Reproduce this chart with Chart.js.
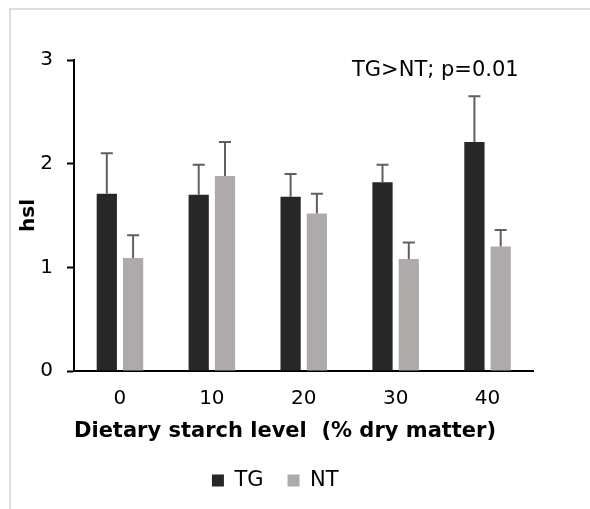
<!DOCTYPE html>
<html>
<head>
<meta charset="utf-8">
<script src="https://cdn.jsdelivr.net/npm/chart.js@4.4.1/dist/chart.umd.min.js"></script>
<style>
  body { margin: 0; background: #fff; }
  .frame { position: absolute; left: 9px; top: 8px; width: 600px; height: 520px; border-left: 2px solid #dedede; border-top: 2px solid #dedede; }
  #chart { position: absolute; left: 0; top: 0; }
</style>
</head>
<body>
<div class="frame"></div>
<canvas id="chart" width="590" height="509"></canvas>
<script>
// data
const starchLevels = ['0', '10', '20', '30', '40'];
const tgValues = [1.71, 1.70, 1.68, 1.82, 2.21];
const tgErrors = [0.39, 0.29, 0.22, 0.17, 0.44];
const ntValues = [1.09, 1.88, 1.52, 1.08, 1.20];
const ntErrors = [0.22, 0.33, 0.19, 0.16, 0.16];
const yTicks = [0, 1, 2, 3];
const noteText = 'TG>NT; p=0.01';

Chart.defaults.font.family = 'DejaVu Sans';
Chart.defaults.font.size = 20;
Chart.defaults.color = '#000';

// only the upper half of each error bar is drawn
const errorBars = {
    id: 'errorBars',
    afterDatasetsDraw(chart) {
        const ctx = chart.ctx;
        const yScale = chart.scales.y;
        chart.data.datasets.forEach(function(ds, i) {
            const meta = chart.getDatasetMeta(i);
            meta.data.forEach(function(bar, j) {
                const top = yScale.getPixelForValue(ds.data[j] + ds.errorBars[j]);
                ctx.save();
                ctx.strokeStyle = '#5f5f5f';
                ctx.lineWidth = 2;
                ctx.beginPath();
                ctx.moveTo(bar.x, bar.y);
                ctx.lineTo(bar.x, top);
                ctx.moveTo(bar.x - 6, top);
                ctx.lineTo(bar.x + 6, top);
                ctx.stroke();
                ctx.restore();
            });
        });
    }
};

// p-value note in the top right of the plot
const noteLabel = {
    id: 'noteLabel',
    afterDraw(chart) {
        const ctx = chart.ctx;
        ctx.save();
        ctx.font = '21px "DejaVu Sans"';
        ctx.fillStyle = '#000';
        ctx.textAlign = 'left';
        ctx.textBaseline = 'middle';
        ctx.fillText(noteText, 352, 71);
        ctx.restore();
    }
};

const data = {
    labels: starchLevels,
    datasets: [{
        label: 'TG',
        data: tgValues,
        errorBars: tgErrors,
        backgroundColor: '#272727',
        categoryPercentage: 0.572,
        barPercentage: 0.77
    }, {
        label: 'NT',
        data: ntValues,
        errorBars: ntErrors,
        backgroundColor: '#aeaaaa',
        categoryPercentage: 0.572,
        barPercentage: 0.77
    }]
};

const config = {
    type: 'bar',
    data: data,
    options: {
        responsive: false,
        animation: false,
        layout: { padding: { left: 17, top: 60, right: 56.5, bottom: 8 } },
        plugins: {
            tooltip: { enabled: false },
            legend: {
                position: 'bottom',
                labels: { boxWidth: 12, boxHeight: 12, padding: 24, font: { size: 21 } }
            }
        },
        scales: {
            x: {
                grid: { display: false, drawTicks: false },
                border: { color: '#000', width: 2 },
                ticks: { padding: 16 },
                title: {
                    display: true,
                    text: 'Dietary starch level  (% dry matter)',
                    align: 'start',
                    font: { size: 21, weight: 'bold' },
                    padding: { top: 9, bottom: 1.5 }
                },
                afterFit(scale) { scale.height = 75; }
            },
            y: {
                min: yTicks[0],
                max: yTicks[yTicks.length - 1],
                afterBuildTicks(scale) { scale.ticks = yTicks.map(v => ({ value: v })); },
                ticks: { padding: 14 },
                grid: { drawOnChartArea: false, tickLength: 7, tickColor: '#000', tickWidth: 2 },
                border: { color: '#000', width: 2 },
                title: {
                    display: true,
                    text: 'hsl',
                    font: { size: 20, weight: 'bold' },
                    padding: 0
                },
                afterFit(scale) { scale.width = 57; }
            }
        }
    },
    plugins: [errorBars, noteLabel]
};

const chart = new Chart(document.getElementById('chart'), config);
</script>
</body>
</html>
